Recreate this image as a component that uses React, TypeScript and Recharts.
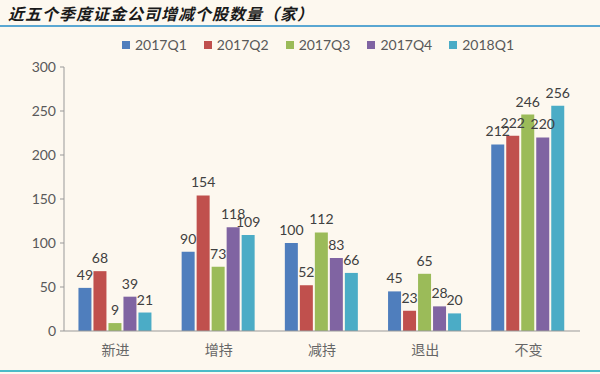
import { Bar, BarChart, LabelList, XAxis, YAxis } from "recharts";

const categories = ["新进", "增持", "减持", "退出", "不变"];
const q1_2017 = [49, 90, 100, 45, 212];
const q2_2017 = [68, 154, 52, 23, 222];
const q3_2017 = [9, 73, 112, 65, 246];
const q4_2017 = [39, 118, 83, 28, 220];
const q1_2018 = [21, 109, 66, 20, 256];
const yTicks = [0, 50, 100, 150, 200, 250, 300];

const series = [
  { key: "2017Q1", values: q1_2017, color: "#4F7EBD" },
  { key: "2017Q2", values: q2_2017, color: "#C0504D" },
  { key: "2017Q3", values: q3_2017, color: "#9BBB59" },
  { key: "2017Q4", values: q4_2017, color: "#8064A2" },
  { key: "2018Q1", values: q1_2018, color: "#4BACC6" },
];

const data = categories.map((name, i) => {
  const row: Record<string, string | number> = { name };
  series.forEach((s) => {
    row[s.key] = s.values[i];
  });
  return row;
});

const numFont = "Lato, 'Noto Sans', sans-serif";

export default function App() {
  return (
    <div
      style={{
        position: "fixed",
        left: 0,
        top: 0,
        width: 600,
        height: 374,
        background: "#FDF8EF",
        fontFamily: numFont,
        overflow: "hidden",
      }}
    >
      <div
        style={{
          position: "absolute",
          left: 8,
          top: 1,
          fontSize: 16,
          fontStyle: "italic",
          fontWeight: 600,
          color: "#1a1a1a",
          fontFamily: "'Noto Sans CJK SC', sans-serif",
          letterSpacing: 1,
        }}
      >
        近五个季度证金公司增减个股数量（家）
      </div>
      <div style={{ position: "absolute", left: 0, top: 25, width: 600, height: 2, background: "#5AA7D2" }} />
      <div style={{ position: "absolute", left: 0, top: 370, width: 600, height: 2, background: "#4BBBC8" }} />
      <div
        style={{
          position: "absolute",
          left: 122,
          top: 36,
          display: "flex",
          gap: 17,
          fontSize: 14,
          lineHeight: "18px",
          color: "#595959",
        }}
      >
        {series.map((s) => (
          <div key={s.key} style={{ display: "flex", alignItems: "center", gap: 5 }}>
            <span style={{ width: 8, height: 8, background: s.color, display: "inline-block" }} />
            <span>{s.key}</span>
          </div>
        ))}
      </div>
      <BarChart
        width={600}
        height={374}
        data={data}
        margin={{ top: 67, right: 20, bottom: 13, left: 4 }}
        barCategoryGap="14%"
        barGap={2}
        style={{ position: "absolute", left: 0, top: 0 }}
      >
        <XAxis
          dataKey="name"
          height={30}
          tickLine={false}
          axisLine={{ stroke: "#999" }}
          tick={{ fill: "#666", fontSize: 14, fontFamily: "'Noto Sans CJK SC', sans-serif" }}
          tickMargin={8}
        />
        <YAxis
          domain={[0, 300]}
          ticks={yTicks}
          width={60}
          axisLine={{ stroke: "#999" }}
          tickLine={{ stroke: "#999" }}
          tickSize={4}
          tick={{ fill: "#595959", fontSize: 14 }}
          tickMargin={4}
        />
        {series.map((s) => (
          <Bar key={s.key} dataKey={s.key} fill={s.color} isAnimationActive={false}>
            <LabelList dataKey={s.key} position="top" fill="#404040" fontSize={14} offset={8} />
          </Bar>
        ))}
      </BarChart>
    </div>
  );
}
